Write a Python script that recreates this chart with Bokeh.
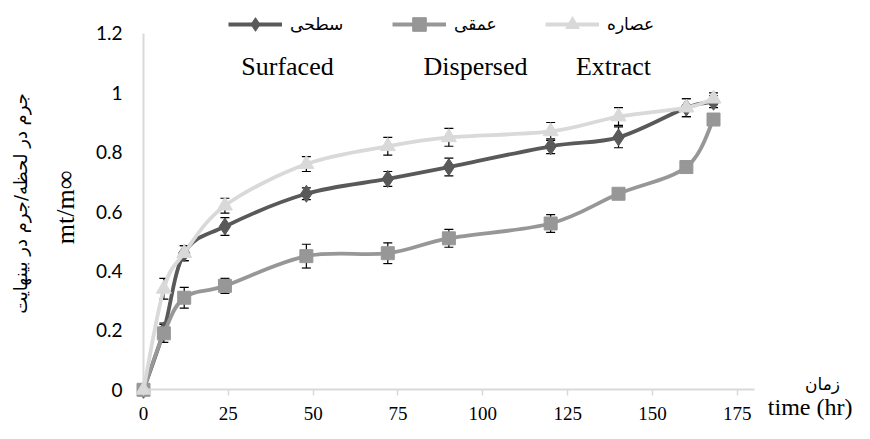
import math
from bokeh.plotting import figure
from bokeh.models import (ColumnDataSource, Whisker, TeeHead, Legend, LegendItem, Label,
                          Range1d, FixedTicker, CustomJSTickFormatter)
from bokeh.embed import file_html
from bokeh.resources import INLINE
from bokeh.core.properties import value

# ---------------- data ----------------
time_hr = [0, 6, 12, 24, 48, 72, 90, 120, 140, 160, 168]
surfaced = [0, 0.20, 0.46, 0.55, 0.66, 0.71, 0.75, 0.82, 0.85, 0.95, 0.97]
surfaced_err = [0, 0.025, 0.025, 0.03, 0.02, 0.025, 0.03, 0.025, 0.035, 0.03, 0.02]
dispersed = [0, 0.19, 0.31, 0.35, 0.45, 0.46, 0.51, 0.56, 0.66, 0.75, 0.91]
dispersed_err = [0, 0.03, 0.035, 0.025, 0.04, 0.035, 0.03, 0.03, 0.01, 0.01, 0.01]
extract = [0, 0.34, 0.46, 0.62, 0.76, 0.82, 0.85, 0.87, 0.92, 0.95, 0.98]
extract_err = [0, 0.035, 0.025, 0.025, 0.025, 0.03, 0.03, 0.03, 0.03, 0.03, 0.02]

series_fa = ["سطحی", "عمقی", "عصاره"]
series_en = ["Surfaced", "Dispersed", "Extract"]
x_ticks = [0, 25, 50, 75, 100, 125, 150, 175]
y_ticks = [0, 0.2, 0.4, 0.6, 0.8, 1.0, 1.2]
y_title_fa = "جرم در لحظه/جرم در بینهایت"
y_title_en = "mt/m∞"
x_title_fa = "زمان"
x_title_en = "time (hr)"

# ---------------- layout ----------------
W, H = 854, 423
X0_PAGE, SX = 143.0, 3.393      # image px of x=0, px per hour
Y0_PAGE, SY = 389.3, 297.0      # image px of y=0, px per unit
x_start = (0 - X0_PAGE) / SX
x_end = (W - X0_PAGE) / SX
y_end = Y0_PAGE / SY
y_start = (Y0_PAGE - H) / SY


def dx(px):
    return (px - X0_PAGE) / SX


def dy(py):
    return (Y0_PAGE - py) / SY


SERIF = "'Liberation Serif', 'DejaVu Serif', serif"
ARAB = "'DejaVu Sans', sans-serif"

p = figure(width=W, height=H, output_backend="svg", toolbar_location=None,
           x_range=Range1d(x_start, x_end), y_range=Range1d(y_start, y_end),
           min_border_left=0, min_border_right=0, min_border_top=0, min_border_bottom=0)
p.outline_line_color = None
p.grid.visible = False
p.background_fill_color = "white"

AXIS_COL = "#d9d9d9"
xa = p.xaxis[0]
xa.fixed_location = 0
xa.bounds = (0, 180)
xa.ticker = FixedTicker(ticks=x_ticks)
xa.axis_line_color = AXIS_COL
xa.axis_line_width = 2
xa.major_tick_line_color = AXIS_COL
xa.major_tick_line_width = 1.5
xa.major_tick_out = 6
xa.major_tick_in = 0
xa.minor_tick_line_color = None
xa.major_label_standoff = 11
xa.major_label_text_font = SERIF
xa.major_label_text_font_size = "19px"
xa.major_label_text_color = "black"

ya = p.yaxis[0]
ya.fixed_location = 0
ya.bounds = (0, 1.2)
ya.ticker = FixedTicker(ticks=y_ticks)
ya.formatter = CustomJSTickFormatter(code="return String(Math.round(tick*10)/10)")
ya.axis_line_color = AXIS_COL
ya.axis_line_width = 2
ya.major_tick_line_color = None
ya.major_tick_out = 0
ya.major_tick_in = 0
ya.minor_tick_line_color = None
ya.major_label_standoff = 21
ya.major_label_text_font = "Lato"
ya.major_label_text_font_size = "19px"
ya.major_label_text_color = "black"


def smooth_source(xs, ys):
    n = len(xs)
    d = dict(x0=[], y0=[], x1=[], y1=[], cx0=[], cy0=[], cx1=[], cy1=[])
    for i in range(n - 1):
        im1 = max(i - 1, 0)
        ip2 = min(i + 2, n - 1)
        d["x0"].append(xs[i]); d["y0"].append(ys[i])
        d["x1"].append(xs[i + 1]); d["y1"].append(ys[i + 1])
        d["cx0"].append(xs[i] + (xs[i + 1] - xs[im1]) / 6.0)
        d["cy0"].append(ys[i] + (ys[i + 1] - ys[im1]) / 6.0)
        d["cx1"].append(xs[i + 1] - (xs[ip2] - xs[i]) / 6.0)
        d["cy1"].append(ys[i + 1] - (ys[ip2] - ys[i]) / 6.0)
    return ColumnDataSource(d)


colors = ["#595959", "#979797", "#d9d9d9"]
markers = ["diamond", "square", "triangle"]
msizes = [17, 13, 15]
vals = [surfaced, dispersed, extract]
errs = [surfaced_err, dispersed_err, extract_err]
legend_x = [228, 392, 545]

renderers = []
for k in range(3):
    bez = p.bezier(x0="x0", y0="y0", x1="x1", y1="y1", cx0="cx0", cy0="cy0",
                   cx1="cx1", cy1="cy1", source=smooth_source(time_hr, vals[k]),
                   line_color=colors[k], line_width=3.8)
    src = ColumnDataSource(dict(x=time_hr, y=vals[k],
                                upper=[v + e for v, e in zip(vals[k], errs[k])],
                                lower=[v - e for v, e in zip(vals[k], errs[k])]))
    sc = p.scatter(x="x", y="y", source=src, marker=markers[k], size=msizes[k],
                   fill_color=colors[k], line_color=colors[k])
    renderers.append((bez, sc, src))

for k in range(3):
    bez, sc, src = renderers[k]
    w = Whisker(source=src, base="x", upper="upper", lower="lower", dimension="height",
                line_color="black", line_width=1.2,
                upper_head=TeeHead(size=9, line_color="black", line_width=1.2),
                lower_head=TeeHead(size=9, line_color="black", line_width=1.2))
    p.add_layout(w)

LG_H = 34
for k in range(3):
    bez, sc, src = renderers[k]
    lg = Legend(items=[LegendItem(label=value(series_fa[k]), renderers=[bez, sc])],
                location=(legend_x[k], H - 24 - LG_H // 2), orientation="horizontal",
                background_fill_alpha=0, border_line_color=None,
                glyph_width=54, glyph_height=LG_H, label_standoff=8, padding=0, margin=0,
                label_text_font=ARAB, label_text_font_size="17px",
                label_text_color="black", label_height=LG_H)
    p.add_layout(lg)

for name, px in zip(series_en, [287, 475, 613]):
    p.add_layout(Label(x=dx(px), y=dy(66), text=name,
                       text_font=SERIF, text_font_size="26px", text_align="center",
                       text_baseline="middle", text_color="black"))

p.add_layout(Label(x=dx(20), y=dy(203), text=y_title_fa,
                   angle=math.pi / 2, text_font=ARAB, text_font_size="18px",
                   text_align="center", text_baseline="middle", text_color="black"))
p.add_layout(Label(x=dx(65), y=dy(207), text=y_title_en,
                   angle=math.pi / 2, text_font=SERIF, text_font_size="26px",
                   text_align="center", text_baseline="middle", text_color="black"))
p.add_layout(Label(x=dx(822), y=dy(383), text=x_title_fa,
                   text_font=ARAB, text_font_size="17px",
                   text_align="center", text_baseline="middle", text_color="black"))
p.add_layout(Label(x=dx(852), y=dy(406), text=x_title_en,
                   text_font=SERIF, text_font_size="24px",
                   text_align="right", text_baseline="middle", text_color="black"))

open("out.html", "w").write(file_html(p, INLINE))
